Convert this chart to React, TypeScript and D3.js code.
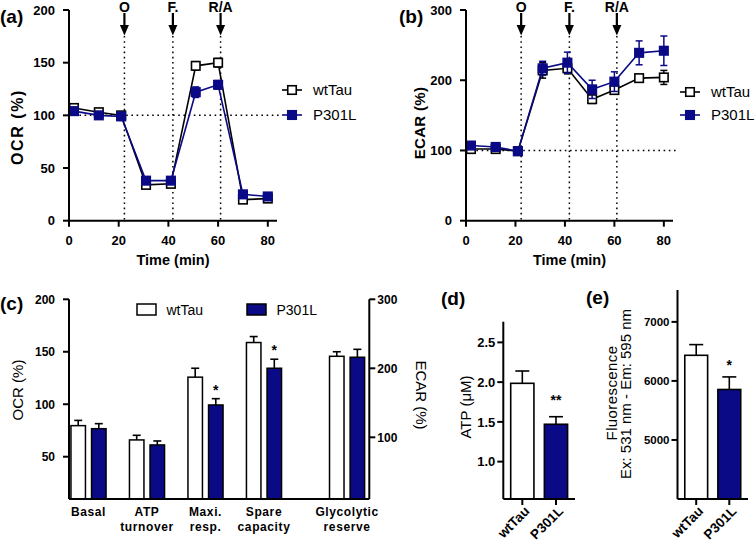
import React from "react";
import * as d3 from "d3";

const FONT = "'Liberation Sans', Arial, Helvetica, sans-serif";
const NAVY = "#0a0a86";
const INK = "#000";

// ---------- (a)/(b) time course ----------
const timePoints = [2, 12, 21, 31, 41, 51, 60, 70, 80];
const ocrWtTau = [107, 103, 100, 34, 35, 147, 150, 20, 21];
const ocrWtTauErr = [3, 3, 2, 3, 3, 4, 4, 3, 3];
const ocrP301L = [104, 100, 99, 38, 38, 122, 129, 25, 23];
const ocrP301LErr = [3, 3, 2, 3, 3, 5, 4, 3, 3];
const ecarWtTau = [102, 102, 99, 214, 217, 173, 186, 203, 204];
const ecarWtTauErr = [3, 3, 2, 11, 8, 6, 6, 4, 10];
const ecarP301L = [107, 105, 99, 217, 225, 187, 198, 239, 242];
const ecarP301LErr = [3, 3, 2, 10, 15, 13, 14, 17, 21];
const injectionTimes = [22.3, 41.8, 61];
const injectionLabels = ["O", "F.", "R/A"];
const timeTicks = [0, 20, 40, 60, 80];
const ocrTicks = [0, 50, 100, 150, 200];
const ecarTicks = [0, 100, 200, 300];
const seriesNames = ["wtTau", "P301L"];

// ---------- (c) parameters ----------
const paramLabels = [["Basal"], ["ATP", "turnover"], ["Maxi.", "resp."], ["Spare", "capacity"], ["Glycolytic", "reserve"]];
const paramWtTau = [79.6, 66, 125.8, 158.8, 217.4];
const paramWtTauErr = [5, 4.4, 8.5, 5.7, 6.6];
const paramP301L = [76.7, 61.2, 99.3, 134.3, 216];
const paramP301LErr = [4.8, 3.8, 6, 8.6, 11.5];
const paramAxis = ["OCR", "OCR", "OCR", "OCR", "ECAR"];
const paramSig = ["", "", "*", "*", ""];
const paramOcrTicks = [50, 100, 150, 200];
const paramEcarTicks = [100, 200, 300];

// ---------- (d) ATP ----------
const atpValues = [1.985, 1.47];
const atpErr = [0.155, 0.095];
const atpSig = ["", "**"];
const atpTicks = [1.0, 1.5, 2.0, 2.5];

// ---------- (e) Fluorescence ----------
const fluoValues = [6434, 5855];
const fluoErr = [181, 213];
const fluoSig = ["", "*"];
const fluoTicks = [5000, 6000, 7000];

const AX = 2;

function VAxis({ x, scale, ticks, fmt = (t: number) => String(t), dir = -1, fs = 12.5, tick = 6, gap = 8 }: any) {
  const r = scale.range();
  const y0 = Math.min(r[0], r[1]);
  const y1 = Math.max(r[0], r[1]);
  return (
    <g>
      <line x1={x} x2={x} y1={y0} y2={y1} stroke={INK} strokeWidth={AX} />
      {ticks.map((t: number) => (
        <g key={t}>
          <line x1={x} x2={x + dir * tick} y1={scale(t)} y2={scale(t)} stroke={INK} strokeWidth={AX} />
          <text
            x={x + dir * (tick + gap)}
            y={scale(t)}
            dy="0.36em"
            textAnchor={dir < 0 ? "end" : "start"}
            fontSize={fs}
            fontWeight="bold"
          >
            {fmt(t)}
          </text>
        </g>
      ))}
    </g>
  );
}

function HAxis({ y, scale, ticks, fs = 13, tick = 6 }: any) {
  const r = scale.range();
  return (
    <g>
      <line x1={r[0]} x2={r[1]} y1={y} y2={y} stroke={INK} strokeWidth={AX} />
      {ticks.map((t: number) => (
        <g key={t}>
          <line x1={scale(t)} x2={scale(t)} y1={y} y2={y + tick} stroke={INK} strokeWidth={AX} />
          <text x={scale(t)} y={y + 24} textAnchor="middle" fontSize={fs} fontWeight="bold">
            {t}
          </text>
        </g>
      ))}
    </g>
  );
}

function Marker({ x, y, filled }: any) {
  const s = 8.5;
  return (
    <rect
      x={x - s / 2}
      y={y - s / 2}
      width={s}
      height={s}
      fill={filled ? NAVY : "#fff"}
      stroke={filled ? NAVY : INK}
      strokeWidth={1.6}
    />
  );
}

function TimeCourse({ xr, yTop, yBot, yMax, yTicks, wt, wtErr, p, pErr, yTitle, titleFs, titleLs, titleX, titleY, legX, legY, panel, panelX }: any) {
  const x = d3.scaleLinear().domain([0, 83.7]).range(xr);
  const y = d3.scaleLinear().domain([0, yMax]).range([yBot, yTop]);
  const line = d3
    .line<number>()
    .x((_, i) => x(timePoints[i]))
    .y((d) => y(d));
  const series = [
    { v: wt, e: wtErr, color: INK, filled: false },
    { v: p, e: pErr, color: NAVY, filled: true },
  ];
  const dotted = "1.6,3.6";
  return (
    <g>
      <text x={panelX} y={23} fontSize={19} fontWeight="bold">{panel}</text>
      {/* reference line at 100 % */}
      <line x1={xr[0]} x2={xr[1] + 5} y1={y(100)} y2={y(100)} stroke={INK} strokeWidth={1.5} strokeDasharray={dotted} />
      {injectionTimes.map((t, i) => (
        <g key={i}>
          <line x1={x(t)} x2={x(t)} y1={36} y2={yBot} stroke={INK} strokeWidth={1.5} strokeDasharray={dotted} />
          <line x1={x(t)} x2={x(t)} y1={13} y2={27} stroke={INK} strokeWidth={2.2} />
          <path d={`M${x(t) - 4.5},25 L${x(t) + 4.5},25 L${x(t)},35.5 Z`} fill={INK} />
          <text x={x(t)} y={11.5} textAnchor="middle" fontSize={14} fontWeight="bold">
            {injectionLabels[i]}
          </text>
        </g>
      ))}
      {series.map((s, k) => (
        <g key={k}>
          <path d={line(s.v) || ""} fill="none" stroke={s.color} strokeWidth={1.6} />
          {s.v.map((v: number, i: number) => (
            <g key={i} stroke={s.color} strokeWidth={1.5}>
              <line x1={x(timePoints[i])} x2={x(timePoints[i])} y1={y(v - s.e[i])} y2={y(v + s.e[i])} />
              <line x1={x(timePoints[i]) - 3.5} x2={x(timePoints[i]) + 3.5} y1={y(v + s.e[i])} y2={y(v + s.e[i])} />
              <line x1={x(timePoints[i]) - 3.5} x2={x(timePoints[i]) + 3.5} y1={y(v - s.e[i])} y2={y(v - s.e[i])} />
            </g>
          ))}
          {s.v.map((v: number, i: number) => (
            <Marker key={"m" + i} x={x(timePoints[i])} y={y(v)} filled={s.filled} />
          ))}
        </g>
      ))}
      <VAxis x={xr[0]} scale={y} ticks={yTicks} fs={13} />
      <HAxis y={yBot} scale={x} ticks={timeTicks} />
      <text x={(xr[0] + xr[1]) / 2} y={265} textAnchor="middle" fontSize={14.5} fontWeight="bold">
        Time (min)
      </text>
      <text
        transform={`translate(${titleX},${titleY}) rotate(-90)`}
        textAnchor="middle"
        dy="0.36em"
        fontSize={titleFs}
        fontWeight="bold"
        letterSpacing={titleLs}
      >
        {yTitle}
      </text>
      {/* legend */}
      {series.map((s, k) => (
        <g key={"l" + k}>
          <line x1={legX} x2={legX + 20} y1={legY[k]} y2={legY[k]} stroke={s.color} strokeWidth={1.6} />
          <Marker x={legX + 10} y={legY[k]} filled={s.filled} />
          <text x={legX + 31} y={legY[k]} dy="0.36em" fontSize={15}>
            {seriesNames[k]}
          </text>
        </g>
      ))}
    </g>
  );
}

function ParamPanel() {
  const top = 299.3;
  const bot = 499;
  const xl = 69;
  const xrr = 369.3;
  const yL = d3.scaleLinear().domain([9.7, 200]).range([bot, top]);
  const yR = d3.scaleLinear().domain([10.6, 300]).range([bot, top]);
  const slot = d3.scaleLinear().domain([0, 3]).range([88.5, 264]);
  const groupX = (i: number) => slot(i + (i === 4 ? 0.42 : 0));
  const inner = d3.scaleBand().domain(seriesNames).range([-17.55, 17.55]).paddingInner(0.296);
  const bw = inner.bandwidth();
  const vals = [paramWtTau, paramP301L];
  const errs = [paramWtTauErr, paramP301LErr];
  return (
    <g>
      <text x={0} y={310} fontSize={19} fontWeight="bold">(c)</text>
      {paramLabels.map((lab, i) => {
        const ys = paramAxis[i] === "OCR" ? yL : yR;
        return (
          <g key={i}>
            {seriesNames.map((s, k) => {
              const v = vals[k][i];
              const e = errs[k][i];
              const bx = groupX(i) + (inner(s) as number);
              const cx = bx + bw / 2;
              return (
                <g key={s}>
                  <line x1={cx} x2={cx} y1={ys(v)} y2={ys(v + e)} stroke={INK} strokeWidth={1.6} />
                  <line x1={cx - 4} x2={cx + 4} y1={ys(v + e)} y2={ys(v + e)} stroke={INK} strokeWidth={1.6} />
                  <rect x={bx} y={ys(v)} width={bw} height={bot - ys(v)} fill={k === 0 ? "#fff" : NAVY} stroke={INK} strokeWidth={1.5} />
                  {k === 1 && paramSig[i] ? (
                    <text x={cx} y={ys(v + e) - 4} textAnchor="middle" fontSize={14} fontWeight="bold">
                      {paramSig[i]}
                    </text>
                  ) : null}
                </g>
              );
            })}
            {lab.map((t, j) => (
              <text key={j} x={groupX(i)} y={516 + j * 14.5} textAnchor="middle" fontSize={12} fontWeight="bold" letterSpacing={0.6}>
                {t}
              </text>
            ))}
          </g>
        );
      })}
      <line x1={xl} x2={xrr} y1={bot} y2={bot} stroke={INK} strokeWidth={AX} />
      <VAxis x={xl} scale={yL} ticks={paramOcrTicks} fs={12} />
      <VAxis x={xrr} scale={yR} ticks={paramEcarTicks} dir={1} fs={12} gap={2} />
      <text transform={`translate(18,390) rotate(-90)`} textAnchor="middle" dy="0.36em" fontSize={15}>
        OCR (%)
      </text>
      <text transform={`translate(421,395) rotate(90)`} textAnchor="middle" dy="0.36em" fontSize={15}>
        ECAR (%)
      </text>
      {/* legend */}
      {seriesNames.map((s, k) => {
        const lx = [137, 247][k];
        return (
          <g key={s}>
            <rect x={lx} y={304} width={19} height={11} fill={k === 0 ? "#fff" : NAVY} stroke={INK} strokeWidth={1.5} />
            <text x={lx + 29.5} y={310} dy="0.36em" fontSize={14}>
              {s}
            </text>
          </g>
        );
      })}
    </g>
  );
}

function SmallBar({ xAxis, xEnd, top, bot, domain, ticks, fmt, tickFs, values, errs, sig, sigOff, panel, panelX, panelY, children }: any) {
  const y = d3.scaleLinear().domain(domain).range([bot, top]);
  const x = d3.scaleBand().domain(seriesNames).range([xAxis, xEnd]).paddingInner(0.31).paddingOuter(0.22);
  const bw = x.bandwidth();
  return (
    <g>
      <text x={panelX} y={panelY} fontSize={19} fontWeight="bold">{panel}</text>
      {seriesNames.map((s, k) => {
        const v = values[k];
        const e = errs[k];
        const bx = x(s) as number;
        const cx = bx + bw / 2;
        return (
          <g key={s}>
            <line x1={cx} x2={cx} y1={y(v)} y2={y(v + e)} stroke={INK} strokeWidth={1.6} />
            <line x1={cx - 7} x2={cx + 7} y1={y(v + e)} y2={y(v + e)} stroke={INK} strokeWidth={1.6} />
            <rect x={bx} y={y(v)} width={bw} height={bot - y(v)} fill={k === 0 ? "#fff" : NAVY} stroke={INK} strokeWidth={1.6} />
            {sig[k] ? (
              <text x={cx} y={y(v + e) - sigOff} textAnchor="middle" fontSize={14} fontWeight="bold">
                {sig[k]}
              </text>
            ) : null}
            <line x1={cx} x2={cx} y1={bot} y2={bot + 6} stroke={INK} strokeWidth={AX} />
            <text transform={`translate(${cx + 8},${bot + 13}) rotate(-45)`} textAnchor="end" fontSize={13.5} fontWeight="bold">
              {s}
            </text>
          </g>
        );
      })}
      <line x1={xAxis} x2={xEnd} y1={bot} y2={bot} stroke={INK} strokeWidth={AX} />
      <VAxis x={xAxis} scale={y} ticks={ticks} fmt={fmt} fs={tickFs} gap={2} />
      {children}
    </g>
  );
}

export default function App() {
  return (
    <svg
      width={756}
      height={546}
      viewBox="0 0 756 546"
      style={{ position: "absolute", left: 0, top: 0, background: "#fff" }}
      fontFamily={FONT}
    >
      <rect x={0} y={0} width={756} height={546} fill="#fff" />
      <TimeCourse
        xr={[69, 277]}
        yTop={10}
        yBot={220.7}
        yMax={200}
        yTicks={ocrTicks}
        wt={ocrWtTau}
        wtErr={ocrWtTauErr}
        p={ocrP301L}
        pErr={ocrP301LErr}
        yTitle="OCR (%)"
        titleFs={16}
        titleLs={1.6}
        titleX={17}
        titleY={127}
        legX={282}
        legY={[90, 115]}
        panel="(a)"
        panelX={0}
      />
      <TimeCourse
        xr={[466, 673]}
        yTop={10}
        yBot={220.7}
        yMax={300}
        yTicks={ecarTicks}
        wt={ecarWtTau}
        wtErr={ecarWtTauErr}
        p={ecarP301L}
        pErr={ecarP301LErr}
        yTitle="ECAR (%)"
        titleFs={15}
        titleLs={0.3}
        titleX={420}
        titleY={123}
        legX={680}
        legY={[92, 115]}
        panel="(b)"
        panelX={399}
      />
      <ParamPanel />
      <SmallBar
        xAxis={503.3}
        xEnd={575}
        top={321.7}
        bot={499}
        domain={[0.53, 2.76]}
        ticks={atpTicks}
        fmt={(t: number) => t.toFixed(1)}
        tickFs={13}
        values={atpValues}
        errs={atpErr}
        sig={atpSig}
        sigOff={12}
        panel="(d)"
        panelX={441}
        panelY={305}
      >
        <text transform={`translate(466,407) rotate(-90)`} textAnchor="middle" dy="0.36em" fontSize={15}>
          ATP (μM)
        </text>
      </SmallBar>
      <SmallBar
        xAxis={677.5}
        xEnd={748}
        top={290}
        bot={499}
        domain={[4000, 7540]}
        ticks={fluoTicks}
        fmt={(t: number) => String(t)}
        tickFs={11.5}
        values={fluoValues}
        errs={fluoErr}
        sig={fluoSig}
        sigOff={7}
        panel="(e)"
        panelX={586}
        panelY={304}
      >
        <text transform={`translate(612,393) rotate(-90)`} textAnchor="middle" dy="0.36em" fontSize={15} letterSpacing={0.4}>
          Fluorescence
        </text>
        <text transform={`translate(625.5,394) rotate(-90)`} textAnchor="middle" dy="0.36em" fontSize={15}>
          Ex: 531 nm - Em: 595 nm
        </text>
      </SmallBar>
    </svg>
  );
}
